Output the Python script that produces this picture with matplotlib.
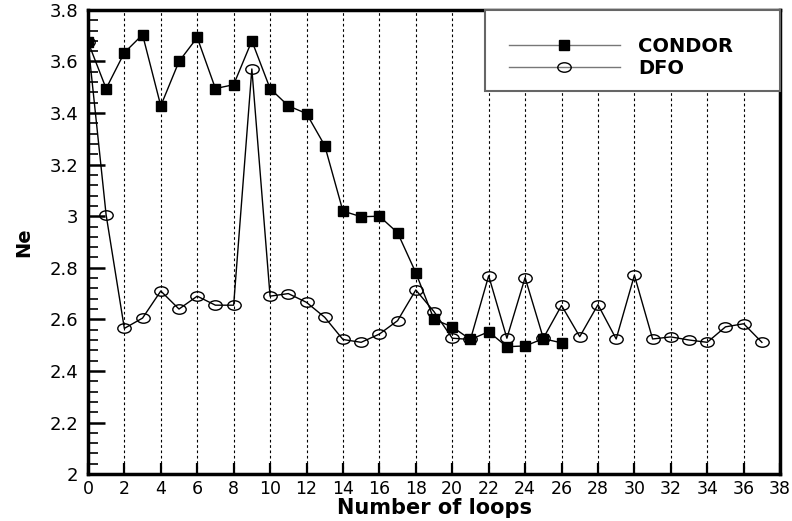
import matplotlib
matplotlib.use("Agg")
import matplotlib.pyplot as plt
from matplotlib.markers import MarkerStyle
from matplotlib.patches import Rectangle
from matplotlib.transforms import Affine2D
from matplotlib.ticker import MultipleLocator, FormatStrFormatter

# -------------------------------------------------
# Data
# -------------------------------------------------

condor_loops = list(range(0, 27))
condor_ne = [3.677, 3.495, 3.634, 3.704, 3.428, 3.600, 3.693, 3.495, 3.510,
             3.680, 3.495, 3.428, 3.398, 3.274, 3.020, 2.998, 3.000, 2.936,
             2.781, 2.600, 2.571, 2.522, 2.552, 2.494, 2.497, 2.525, 2.509]

dfo_loops = list(range(0, 38))
dfo_ne = [3.677, 3.005, 2.565, 2.605, 2.710, 2.640, 2.690, 2.655, 2.655,
          3.571, 2.690, 2.700, 2.666, 2.608, 2.522, 2.511, 2.543, 2.595,
          2.714, 2.630, 2.527, 2.522, 2.769, 2.527, 2.762, 2.527, 2.654,
          2.533, 2.657, 2.524, 2.771, 2.524, 2.532, 2.520, 2.511, 2.571,
          2.583, 2.511]

x_ticks = list(range(0, 39, 2))
grid_x = list(range(2, 38, 2))

# -------------------------------------------------
# Plot
# -------------------------------------------------

plt.rcParams["font.family"] = ["DejaVu Sans"]

fig = plt.figure(figsize=(7.92, 5.21), dpi=100)
ax = fig.add_axes([0.111, 0.090, 0.874, 0.891])

for gx in grid_x:
    ax.axvline(gx, color="black", linewidth=0.8, linestyle=(0, (2.4, 2.4)), zorder=1)

ax.plot(condor_loops, condor_ne, color="black", linewidth=1.0,
        marker="s", markersize=6.6, markerfacecolor="black",
        markeredgecolor="black", label="CONDOR", zorder=3)

ellipse = MarkerStyle("o", transform=Affine2D().scale(1.42, 1.0))
ax.plot(dfo_loops, dfo_ne, color="black", linewidth=1.0,
        marker=ellipse, markersize=6.8, markerfacecolor="none",
        markeredgecolor="black", markeredgewidth=1.0, label="DFO", zorder=4)

ax.set_xlim(0, 38)
ax.set_ylim(2, 3.8)
ax.set_xticks(x_ticks)
ax.yaxis.set_major_locator(MultipleLocator(0.2))
ax.yaxis.set_minor_locator(MultipleLocator(0.04))
ax.yaxis.set_major_formatter(FormatStrFormatter("%g"))

ax.tick_params(axis="x", direction="in", length=8, width=1.6, labelsize=12.5, pad=4)
ax.tick_params(axis="y", which="major", direction="in", length=12, width=1.8,
               labelsize=13, pad=7)
ax.tick_params(axis="y", which="minor", direction="in", length=7.5, width=1.2)

for side in ["left", "right", "top", "bottom"]:
    ax.spines[side].set_linewidth(2.5)

ax.set_xlabel("Number of loops", fontsize=15, fontweight="bold", labelpad=0)
ax.set_ylabel("Ne", fontsize=14, fontweight="bold", labelpad=12)

# legend box (Tecplot style, square frame in the upper right corner)
frame = Rectangle((0.574, 0.825), 0.426, 0.175, transform=ax.transAxes,
                  facecolor="white", edgecolor="#666666", linewidth=1.5,
                  zorder=9, clip_on=False)
ax.add_patch(frame)

leg = ax.legend(loc="upper left", bbox_to_anchor=(0.608, 0.942),
                frameon=False, borderpad=0, borderaxespad=0,
                handlelength=5.7, prop={"weight": "bold", "size": 14},
                labelspacing=0.15, handletextpad=0.95)
leg.set_zorder(10)
for line in leg.get_lines():
    line.set_color("#777777")

fig.savefig("out.png", dpi=100)
